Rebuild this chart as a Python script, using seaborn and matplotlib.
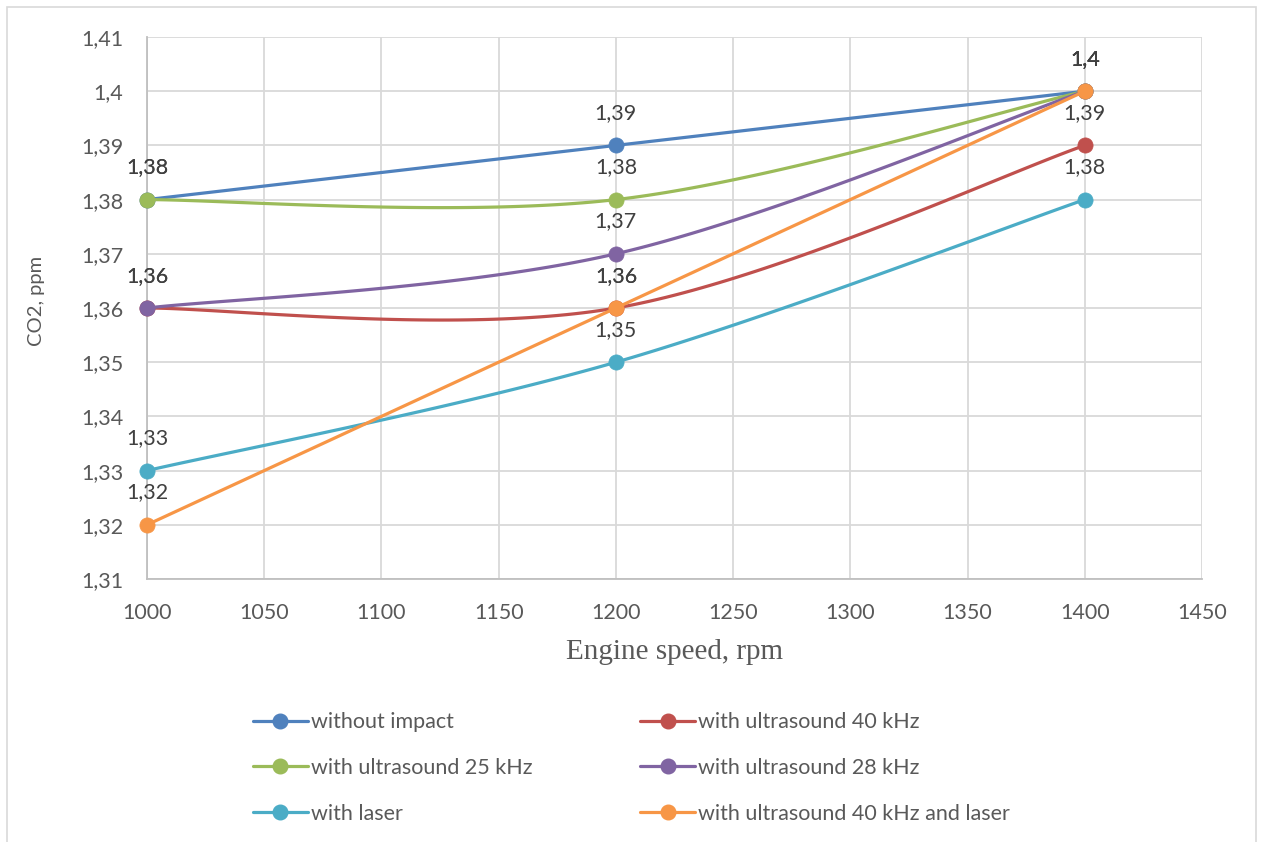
import numpy as np
import pandas as pd
import matplotlib
matplotlib.use("Agg")
import matplotlib.pyplot as plt
from matplotlib.lines import Line2D
from matplotlib.patches import Rectangle
import seaborn as sns

# ---- data ----
speeds = [1000, 1200, 1400]
without_impact = [1.38, 1.39, 1.40]
us_40 = [1.36, 1.36, 1.39]
us_25 = [1.38, 1.38, 1.40]
us_28 = [1.36, 1.37, 1.40]
laser = [1.33, 1.35, 1.38]
us_40_laser = [1.32, 1.36, 1.40]

series_names = ["without impact", "with ultrasound 40 kHz", "with ultrasound 25 kHz",
                "with ultrasound 28 kHz", "with laser", "with ultrasound 40 kHz and laser"]
series_values = [without_impact, us_40, us_25, us_28, laser, us_40_laser]
colors = ["#4F81BD", "#C0504D", "#9BBB59", "#8064A2", "#4BACC6", "#F79646"]

x_ticks = [1000, 1050, 1100, 1150, 1200, 1250, 1300, 1350, 1400, 1450]
y_ticks = [1.31, 1.32, 1.33, 1.34, 1.35, 1.36, 1.37, 1.38, 1.39, 1.40, 1.41]


def fmt(v):
    s = f"{v:.2f}".rstrip("0").rstrip(".")
    return s.replace(".", ",")


def excel_smooth(xs, ys, n=60):
    """Excel-like smoothed line: Catmull-Rom cubic Bezier segments."""
    P = np.column_stack([xs, ys]).astype(float)
    out = []
    m = len(P)
    for i in range(m - 1):
        p0 = P[max(i - 1, 0)]
        p1 = P[i]
        p2 = P[i + 1]
        p3 = P[min(i + 2, m - 1)]
        c1 = p1 + (p2 - p0) / 6.0
        c2 = p2 - (p3 - p1) / 6.0
        t = np.linspace(0, 1, n)[:, None]
        b = ((1 - t) ** 3) * p1 + 3 * ((1 - t) ** 2) * t * c1 + 3 * (1 - t) * t ** 2 * c2 + t ** 3 * p2
        out.append(b if i == 0 else b[1:])
    arr = np.vstack(out)
    return arr[:, 0], arr[:, 1]


sns.set_theme(style="white")
plt.rcParams['font.family'] = ['Lato', 'DejaVu Sans']

FS = 15.5

fig = plt.figure(figsize=(12.63, 8.42), dpi=100)
ax = fig.add_axes([147 / 1263, 1 - 579 / 842, (1202 - 147) / 1263, (579 - 37) / 842])

# chart border
fig.patches.append(Rectangle((7 / 1263, -0.1), (1256 - 7) / 1263, 1 - 7 / 842 + 0.1,
                             transform=fig.transFigure, fill=False,
                             edgecolor="#D9D9D9", linewidth=1.2, zorder=0))

ax.set_xlim(1000, 1450)
ax.set_ylim(1.31, 1.41)
ax.set_xticks(x_ticks)
ax.set_yticks(y_ticks)
ax.set_xticklabels([str(t) for t in x_ticks])
ax.set_yticklabels([fmt(t) for t in y_ticks])
ax.grid(True, color="#D9D9D9", linewidth=1.3)
ax.set_axisbelow(True)
for s in ["top", "right"]:
    ax.spines[s].set_visible(False)
for s in ["left", "bottom"]:
    ax.spines[s].set_color("#BFBFBF")
    ax.spines[s].set_linewidth(1.3)
ax.tick_params(axis="both", length=0, labelsize=FS, colors="#595959")
ax.tick_params(axis="x", pad=17)
ax.tick_params(axis="y", pad=17)

for k, (name, vals, c) in enumerate(zip(series_names, series_values, colors)):
    sx, sy = excel_smooth(speeds, vals)
    df = pd.DataFrame({"x": sx, "y": sy})
    sns.lineplot(data=df, x="x", y="y", ax=ax, color=c, linewidth=2.3, sort=False,
                 estimator=None, zorder=3 + k, clip_on=False)
    pts = pd.DataFrame({"x": speeds, "y": vals})
    sns.scatterplot(data=pts, x="x", y="y", ax=ax, color=c, s=120, edgecolor=c,
                    linewidth=0.5, zorder=3 + k + 0.5, clip_on=False)

for vals in series_values:
    for xv, yv in zip(speeds, vals):
        ax.annotate(fmt(yv), (xv, yv), xytext=(0, 16), textcoords="offset points",
                    ha="center", va="bottom", fontsize=FS, color="#404040", zorder=20)

ax.set_xlabel("Engine speed, rpm", fontsize=21, family="Liberation Serif", color="#595959",
              labelpad=12)
ax.set_ylabel("CO2, ppm", fontsize=14.5, color="#595959", labelpad=26)
ax.yaxis.label.set_y((579 - 301) / (579 - 37))

# legend (column-wise fill, so reorder to match row layout)
handles = [Line2D([0], [0], color=c, linewidth=2.3, marker="o", markersize=10.5,
                  markerfacecolor=c, markeredgecolor=c) for c in colors]
order = [0, 2, 4, 1, 3, 5]
fig.legend([handles[i] for i in order], [series_names[i] for i in order],
           loc="center", bbox_to_anchor=(0.5, 1 - 768 / 842), ncol=2, frameon=False,
           fontsize=FS, labelcolor="#595959", handlelength=2.55, handletextpad=0.15,
           columnspacing=5.0, labelspacing=1.19)

fig.savefig("out.png", dpi=100)
